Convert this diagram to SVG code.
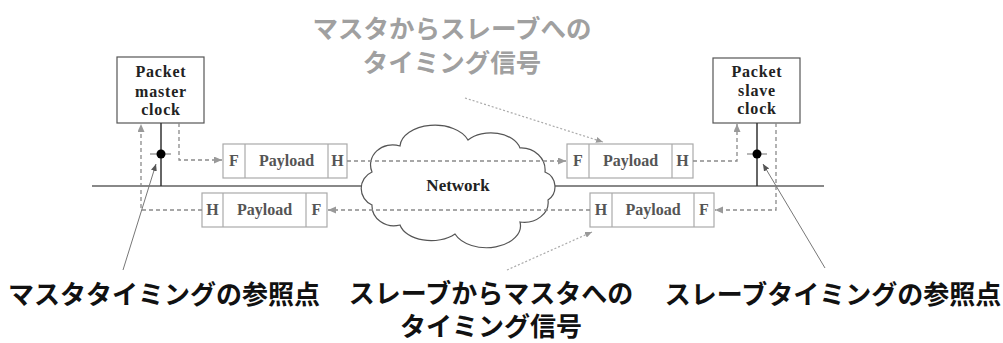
<svg xmlns="http://www.w3.org/2000/svg" width="1003" height="343" viewBox="0 0 1003 343">
<style>
.clk{fill:#fff;stroke:#555;stroke-width:1.2}
.clkt{font-family:"Liberation Serif",serif;font-weight:bold;font-size:16px;fill:#222;text-anchor:middle;letter-spacing:0.8px}
.pk{fill:#fff;stroke:#aaa;stroke-width:1.2}
.pkt{font-family:"Liberation Serif",serif;font-weight:bold;font-size:16px;fill:#555;text-anchor:middle}
.dash{fill:none;stroke:#8a8a8a;stroke-width:1.3;stroke-dasharray:4 3}
.ptr{fill:none;stroke:#777;stroke-width:1}
.dot{fill:none;stroke:#aaa;stroke-width:1.2;stroke-dasharray:2 2}
.jp{font-family:"Noto Sans CJK JP","Noto Sans CJK SC",sans-serif;font-weight:bold;font-size:25.5px;text-anchor:middle}
.jb{font-family:"Noto Sans CJK JP","Noto Sans CJK SC",sans-serif;font-weight:bold;font-size:26px;text-anchor:middle;fill:#111}
</style>
<defs>
<marker id="ah" markerUnits="userSpaceOnUse" markerWidth="9" markerHeight="8" refX="8" refY="3.5" orient="auto"><path d="M0,0 L8,3.5 L0,7 z" fill="#999"/></marker>
<marker id="ap" markerUnits="userSpaceOnUse" markerWidth="8" markerHeight="6" refX="7" refY="3" orient="auto"><path d="M0,0 L7,3 L0,6 z" fill="#555"/></marker>
<marker id="ad" markerUnits="userSpaceOnUse" markerWidth="8" markerHeight="6" refX="7" refY="3" orient="auto"><path d="M0,0 L7,3 L0,6 z" fill="#999"/></marker>
</defs>
<rect width="1003" height="343" fill="#fff"/>
<line x1="92" y1="186" x2="824" y2="186" stroke="#888" stroke-width="2"/>
<g id="network">
<path d="M372,172 A22,20 0 0 1 400,146 A35,22 0 0 1 468,140 A30,20 0 0 1 520,148 A24,22 0 0 1 545,172 A16,16 0 0 1 548,200 A24,20 0 0 1 520,222 A34,22 0 0 1 455,234 A32,20 0 0 1 400,225 A22,20 0 0 1 372,205 A18,18 0 0 1 372,172 Z" fill="#fff" stroke="#555" stroke-width="1.2"/>
<text x="458" y="191" class="pkt" style="fill:#222;font-size:17px">Network</text>
</g>
<g id="master-clock">
<rect x="117" y="57" width="87" height="66" class="clk"/>
<text x="161" y="77" class="clkt">Packet</text>
<text x="161" y="97" class="clkt">master</text>
<text x="161" y="115" class="clkt">clock</text>
<line x1="161" y1="123" x2="161" y2="186" stroke="#333" stroke-width="1.5"/>
<line x1="150" y1="154" x2="171" y2="154" stroke="#888" stroke-width="1.2"/>
<circle cx="161" cy="154" r="4.5" fill="#000"/>
</g>
<g id="slave-clock">
<rect x="713" y="58" width="87" height="65" class="clk"/>
<text x="757" y="77" class="clkt">Packet</text>
<text x="757" y="96" class="clkt">slave</text>
<text x="757" y="114" class="clkt">clock</text>
<line x1="757" y1="123" x2="757" y2="186" stroke="#333" stroke-width="1.5"/>
<line x1="747" y1="154" x2="767" y2="154" stroke="#888" stroke-width="1.2"/>
<circle cx="757" cy="154" r="4.5" fill="#000"/>
</g>
<g id="packet-u1">
<rect x="223" y="144" width="124" height="34" class="pk"/>
<line x1="245" y1="144" x2="245" y2="178" class="pk"/>
<line x1="328" y1="144" x2="328" y2="178" class="pk"/>
<text x="234" y="166" class="pkt">F</text>
<text x="286.5" y="166" class="pkt">Payload</text>
<text x="337.5" y="166" class="pkt">H</text>
</g>
<g id="packet-u2">
<rect x="567" y="144" width="126" height="34" class="pk"/>
<line x1="589" y1="144" x2="589" y2="178" class="pk"/>
<line x1="672" y1="144" x2="672" y2="178" class="pk"/>
<text x="578" y="166" class="pkt">F</text>
<text x="630.5" y="166" class="pkt">Payload</text>
<text x="682.5" y="166" class="pkt">H</text>
</g>
<g id="packet-l1">
<rect x="202" y="193" width="125" height="34" class="pk"/>
<line x1="223" y1="193" x2="223" y2="227" class="pk"/>
<line x1="306" y1="193" x2="306" y2="227" class="pk"/>
<text x="212.5" y="215" class="pkt">H</text>
<text x="264.5" y="215" class="pkt">Payload</text>
<text x="316.5" y="215" class="pkt">F</text>
</g>
<g id="packet-l2">
<rect x="590" y="193" width="124" height="34" class="pk"/>
<line x1="612" y1="193" x2="612" y2="227" class="pk"/>
<line x1="694" y1="193" x2="694" y2="227" class="pk"/>
<text x="601" y="215" class="pkt">H</text>
<text x="653" y="215" class="pkt">Payload</text>
<text x="704" y="215" class="pkt">F</text>
</g>
<g id="connectors">
<path d="M179,123 V160 H222" class="dash" marker-end="url(#ah)"/>
<path d="M347,161 H566" class="dash" marker-end="url(#ah)"/>
<path d="M693,161 H737 V124" class="dash" marker-end="url(#ah)"/>
<path d="M776,123 V210 H715" class="dash" marker-end="url(#ah)"/>
<path d="M590,210 H328" class="dash" marker-end="url(#ah)"/>
<path d="M202,210 H141 V124" class="dash" marker-end="url(#ah)"/>
<line x1="123" y1="270" x2="156" y2="164" class="ptr" marker-end="url(#ap)"/>
<line x1="825" y1="268" x2="763" y2="164" class="ptr" marker-end="url(#ap)"/>
<line x1="507" y1="270" x2="592" y2="232" class="dot" marker-end="url(#ad)"/>
<line x1="465" y1="98" x2="603" y2="142" class="dot" marker-end="url(#ad)"/>
</g>
<g id="labels">
<text x="452" y="38" class="jp" style="fill:#a0a0a0">マスタからスレーブへの</text>
<text x="452" y="72" class="jp" style="fill:#a0a0a0">タイミング信号</text>
<text x="164" y="304" class="jb">マスタタイミングの参照点</text>
<text x="491" y="303" class="jb">スレーブからマスタへの</text>
<text x="491" y="336" class="jb">タイミング信号</text>
<text x="833" y="304" class="jb">スレーブタイミングの参照点</text>
</g>
</svg>
